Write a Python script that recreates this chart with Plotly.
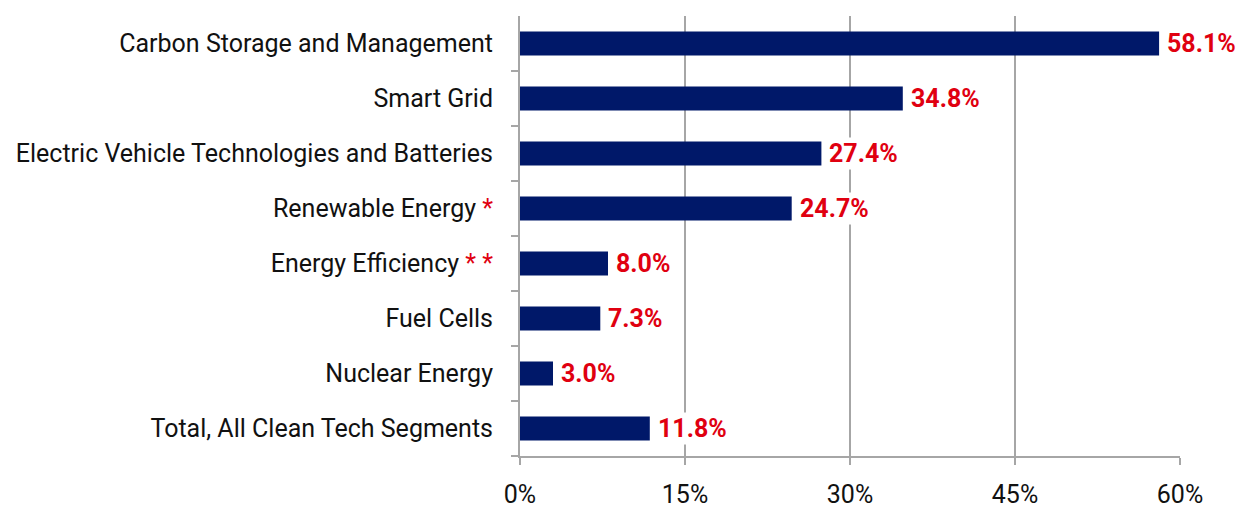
import plotly.graph_objects as go

categories = [
    "Carbon Storage and Management",
    "Smart Grid",
    "Electric Vehicle Technologies and Batteries",
    "Renewable Energy",
    "Energy Efficiency",
    "Fuel Cells",
    "Nuclear Energy",
    "Total, All Clean Tech Segments",
]
footnotes = ["", "", "", "*", "**", "", "", ""]
values = [58.1, 34.8, 27.4, 24.7, 8.0, 7.3, 3.0, 11.8]
x_ticks = [0, 15, 30, 45, 60]
x_tick_labels = ["0%", "15%", "30%", "45%", "60%"]

FONT = "Roboto, Liberation Sans Narrow, Arial, sans-serif"
RED = "#e00010"
NAVY = "#001869"
GRID = "#a6a6a6"

tick_text = [
    c + (f" <span style='color:{RED}'>{' '.join(f)}</span>" if f else "")
    for c, f in zip(categories, footnotes)
]

fig = go.Figure()
fig.add_trace(go.Bar(
    x=values, y=categories, orientation="h",
    marker=dict(color=NAVY, line=dict(width=0)),
    width=0.44,
))

for c, v in zip(categories, values):
    fig.add_annotation(
        x=v, y=c, text=f"<b>{v:.1f}%</b>", showarrow=False,
        xanchor="left", xshift=6, yshift=0,
        font=dict(family=FONT, size=25, color=RED),
        bgcolor="white", borderpad=1,
    )

fig.update_layout(
    width=1229, height=500,
    margin=dict(l=512, r=57, t=8, b=52, autoexpand=False),
    paper_bgcolor="white", plot_bgcolor="white",
    showlegend=False,
    font=dict(family=FONT, size=25, color="#111111"),
    xaxis=dict(
        range=[0, 60], tickvals=x_ticks, ticktext=x_tick_labels,
        showgrid=True, gridcolor=GRID, gridwidth=2,
        showline=True, linecolor=GRID, linewidth=2,
        ticks="outside", ticklen=7, tickwidth=2, tickcolor=GRID,
        zeroline=False, ticklabelstandoff=8, automargin=False,
        tickfont=dict(family=FONT, size=25, color="#111111"),
    ),
    yaxis=dict(
        categoryorder="array", categoryarray=categories[::-1],
        tickmode="array", tickvals=categories, ticktext=tick_text,
        showline=True, linecolor=GRID, linewidth=2,
        ticks="outside", ticklen=7, tickwidth=2, tickcolor=GRID,
        tickson="boundaries", showgrid=False, ticklabelstandoff=20,
        automargin=False,
        tickfont=dict(family=FONT, size=25, color="#111111"),
    ),
)

fig.write_html("out.html")
